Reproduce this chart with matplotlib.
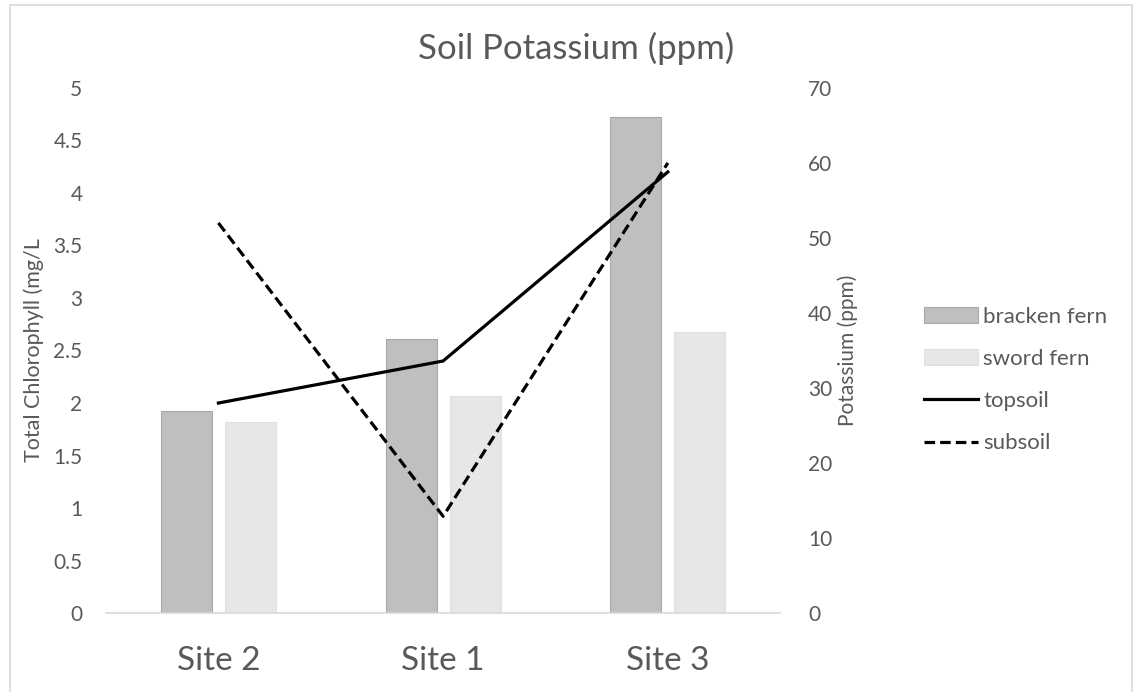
import numpy as np
import matplotlib.pyplot as plt
from matplotlib.patches import Rectangle

plt.rcParams['font.family'] = ['Lato', 'DejaVu Sans']

sites = ['Site 2', 'Site 1', 'Site 3']
bracken = [1.92, 2.61, 4.72]
sword = [1.82, 2.07, 2.68]
topsoil = [28.0, 33.6, 58.8]
subsoil = [52.0, 12.9, 60.0]

grey_text = '#595959'
axis_grey = '#d9d9d9'

fig = plt.figure(figsize=(11.34, 6.92), dpi=100)
ax = fig.add_axes([0.0935, 0.114, 0.5945, 0.759])
ax2 = ax.twinx()

x = np.arange(len(sites))
w = 0.227
b1 = ax.bar(x - 0.142, bracken, w, color='#bfbfbf', edgecolor='#a9a9a9',
            linewidth=0.8, label='bracken fern')
b2 = ax.bar(x + 0.142, sword, w, color='#e7e7e7', edgecolor='#e0e0e0',
            linewidth=0.8, label='sword fern')

l1, = ax2.plot(x, topsoil, color='black', lw=2.3, label='topsoil')
l2, = ax2.plot(x, subsoil, color='black', lw=2.3, ls=(0, (3.3, 1.6)),
               label='subsoil')

ax.set_xlim(-0.5, 2.5)
ax.set_ylim(0, 5)
ax2.set_ylim(0, 70)
ax.set_yticks(np.arange(0, 5.01, 0.5))
ax.set_yticklabels(['0', '0.5', '1', '1.5', '2', '2.5', '3', '3.5', '4', '4.5', '5'])
ax2.set_yticks(np.arange(0, 71, 10))
ax.set_xticks(x)
ax.set_xticklabels(sites)

for a in (ax, ax2):
    for s in a.spines.values():
        s.set_visible(False)
    a.tick_params(length=0, colors=grey_text, labelsize=15)
ax.spines['bottom'].set_visible(True)
ax.spines['bottom'].set_color(axis_grey)
ax.spines['bottom'].set_linewidth(1.2)
ax.tick_params(axis='y', pad=17)
ax2.tick_params(axis='y', pad=20)
ax.tick_params(axis='x', labelsize=24, pad=24)

ax.set_ylabel('Total Chlorophyll (mg/L', color=grey_text, fontsize=15.5, labelpad=7)
ax2.set_ylabel('Potassium (ppm)', color=grey_text, fontsize=15, labelpad=4)

fig.text(0.508, 0.93, 'Soil Potassium (ppm)', ha='center', va='center',
         fontsize=25, color=grey_text)

fig.legend([b1, b2, l1, l2], ['bracken fern', 'sword fern', 'topsoil', 'subsoil'],
           loc='center left', bbox_to_anchor=(0.815, 1 - 380 / 692),
           frameon=False, fontsize=16, labelcolor=grey_text,
           handlelength=2.4, handleheight=0.7, handletextpad=0.25,
           labelspacing=1.0, borderpad=0, borderaxespad=0)

# outer chart border
fig.patches.append(Rectangle((10 / 1134, -0.01), 1122 / 1134, 1.01 - 5 / 692,
                             transform=fig.transFigure, fill=False,
                             edgecolor=axis_grey, lw=1.2))

fig.savefig('out.png', dpi=100)
